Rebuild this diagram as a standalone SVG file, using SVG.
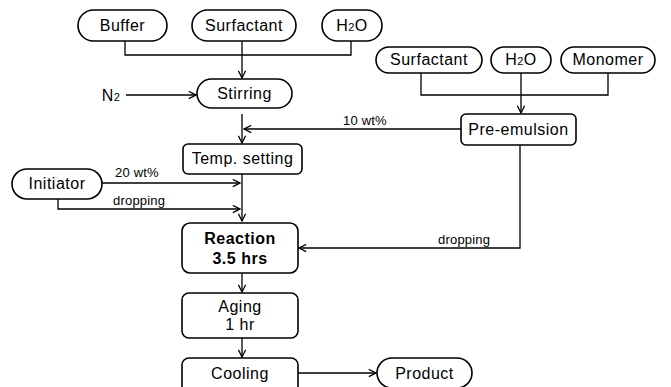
<svg xmlns="http://www.w3.org/2000/svg" width="671" height="387" viewBox="0 0 671 387">
<defs>
<marker id="arr" viewBox="0 0 10 10" refX="9" refY="5" markerWidth="9" markerHeight="9" markerUnits="userSpaceOnUse" orient="auto">
<path d="M1,1 L9,5 L1,9" fill="none" stroke="#000" stroke-width="1.4"/>
</marker>
<style>
.pill{fill:#fff;stroke:#000;stroke-width:1.6}
.box{fill:#fff;stroke:#000;stroke-width:1.6}
.t{font-family:"Liberation Sans","DejaVu Sans",sans-serif;font-size:16px;letter-spacing:0.5px;text-anchor:middle;fill:#000}
.b{font-weight:bold}
.s{font-family:"Liberation Sans","DejaVu Sans",sans-serif;font-size:13px;letter-spacing:0.2px;fill:#000}
.c{fill:none;stroke:#000;stroke-width:1.3}
.sub{font-size:11px}
</style>
</defs>
<rect width="671" height="387" fill="#fff"/>
<g id="connectors">
<path class="c" d="M125,41 V55 H351 V41"/>
<path class="c" d="M242,41 V78" marker-end="url(#arr)"/>
<path class="c" d="M126,95 H196" marker-end="url(#arr)"/>
<path class="c" d="M421,73 V95 H608 V73"/>
<path class="c" d="M521,73 V113" marker-end="url(#arr)"/>
<path class="c" d="M242,114 V143" marker-end="url(#arr)"/>
<path class="c" d="M461,129 H244" marker-end="url(#arr)"/>
<path class="c" d="M242,174 V221" marker-end="url(#arr)"/>
<path class="c" d="M102,183 H240" marker-end="url(#arr)"/>
<path class="c" d="M58,199 V209 H240" marker-end="url(#arr)"/>
<path class="c" d="M520,145 V248 H299" marker-end="url(#arr)"/>
<path class="c" d="M242,273 V292" marker-end="url(#arr)"/>
<path class="c" d="M242,338 V357" marker-end="url(#arr)"/>
<path class="c" d="M298,373 H376" marker-end="url(#arr)"/>
<text class="s" x="343" y="125">10 wt%</text>
<text class="s" x="115" y="177">20 wt%</text>
<text class="s" x="113" y="205">dropping</text>
<text class="s" x="438" y="244">dropping</text>
<text class="t" x="111" y="101">N<tspan class="sub">2</tspan></text>
</g>
<g id="buffer"><rect class="pill" x="78" y="10" width="89" height="31" rx="15.5"/><text class="t" x="122.5" y="31">Buffer</text></g>
<g id="surfactant1"><rect class="pill" x="192" y="10" width="104" height="31" rx="15.5"/><text class="t" x="244" y="31">Surfactant</text></g>
<g id="h2o1"><rect class="pill" x="322" y="10" width="60" height="31" rx="15.5"/><text class="t" x="352" y="31">H<tspan class="sub">2</tspan>O</text></g>
<g id="stirring"><rect class="pill" x="197" y="79" width="95" height="29" rx="14.5"/><text class="t" x="244.5" y="99">Stirring</text></g>
<g id="surfactant2"><rect class="pill" x="376" y="47" width="106" height="26" rx="13"/><text class="t" x="429" y="65">Surfactant</text></g>
<g id="h2o2"><rect class="pill" x="491" y="47" width="60" height="26" rx="13"/><text class="t" x="521" y="65">H<tspan class="sub">2</tspan>O</text></g>
<g id="monomer"><rect class="pill" x="561" y="47" width="94" height="26" rx="13"/><text class="t" x="608" y="65">Monomer</text></g>
<g id="preemulsion"><rect class="box" x="461" y="114" width="115" height="31" rx="5"/><text class="t" x="518.5" y="135">Pre-emulsion</text></g>
<g id="temp"><rect class="box" x="183" y="144" width="119" height="30" rx="5"/><text class="t" x="242.5" y="164">Temp. setting</text></g>
<g id="initiator"><rect class="pill" x="12" y="169" width="90" height="30" rx="15"/><text class="t" x="57" y="189">Initiator</text></g>
<g id="reaction"><rect class="box" x="182" y="223" width="116" height="50" rx="8"/><text class="t b" x="240" y="244">Reaction</text><text class="t b" x="240" y="264">3.5 hrs</text></g>
<g id="aging"><rect class="box" x="182" y="293" width="116" height="45" rx="7"/><text class="t" x="240" y="312">Aging</text><text class="t" x="240" y="330">1 hr</text></g>
<g id="cooling"><rect class="box" x="182" y="358" width="116" height="40" rx="7"/><text class="t" x="240" y="379">Cooling</text></g>
<g id="product"><rect class="pill" x="377" y="358" width="95" height="30" rx="15"/><text class="t" x="424.5" y="379">Product</text></g>
</svg>
